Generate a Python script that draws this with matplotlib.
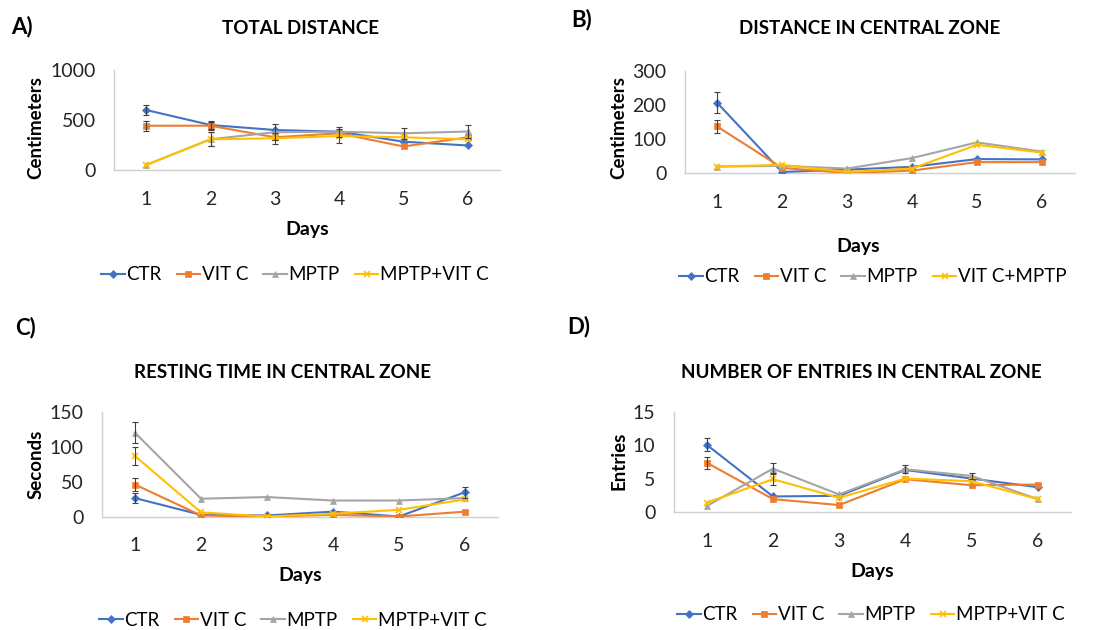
import matplotlib
matplotlib.use("Agg")
import matplotlib.pyplot as plt
import numpy as np

plt.rcParams['font.family'] = ['Lato', 'DejaVu Sans']

days = [1, 2, 3, 4, 5, 6]
colors = ['#4472C4', '#ED7D31', '#A5A5A5', '#FFC000']
markers = ['D', 's', '^', 'x']

# A) Total distance
a_ctr = [600, 450, 400, 383, 283, 245]
a_vitc = [443, 443, 327, 367, 235, 327]
a_mptp = [50, 307, 378, 383, 367, 385]
a_mvc = [50, 307, 317, 340, 327, 307]
a_err_ctr = [50, 40, 0, 50, 0, 0]
a_err_vitc = [50, 40, 0, 0, 0, 0]
a_err_mptp = [0, 70, 80, 0, 57, 67]
a_err_mvc = [0, 70, 55, 73, 0, 0]

# B) Distance in central zone
b_ctr = [207, 3, 10, 18, 41, 40]
b_vitc = [137, 15, 0, 7, 32, 32]
b_mptp = [19, 21, 13, 44, 90, 63]
b_mvc = [19, 24, 3, 13, 83, 60]
b_err_ctr = [31, 0, 0, 0, 0, 0]
b_err_vitc = [19, 0, 0, 0, 0, 0]
b_err_mptp = [0, 0, 0, 0, 0, 0]
b_err_mvc = [0, 0, 0, 0, 0, 0]

# C) Resting time in central zone
c_ctr = [26.5, 2.4, 1.5, 7, 0, 35]
c_vitc = [46, 1.5, 0, 2.4, 0, 7]
c_mptp = [120.5, 25.6, 28, 23, 23, 26.5]
c_mvc = [87, 6, 0, 4, 9.6, 24.6]
c_err_ctr = [7, 0, 0, 0, 0, 8]
c_err_vitc = [9, 0, 0, 0, 0, 0]
c_err_mptp = [15, 0, 0, 0, 0, 0]
c_err_mvc = [13, 0, 0, 0, 0, 0]

# D) Number of entries in central zone
d_ctr = [10.1, 2.3, 2.4, 6.3, 5.0, 3.7]
d_vitc = [7.4, 1.9, 1.0, 4.9, 4.0, 4.1]
d_mptp = [0.85, 6.5, 2.6, 6.4, 5.4, 1.9]
d_mvc = [1.35, 4.9, 2.1, 5.0, 4.6, 1.9]
d_err_ctr = [0.95, 0, 0, 0, 0, 0]
d_err_vitc = [0.9, 0, 0, 0, 0, 0]
d_err_mptp = [0, 0.8, 0, 0.6, 0.5, 0]
d_err_mvc = [0, 0.9, 0, 0, 0, 0]

labels_main = ['CTR', 'VIT C', 'MPTP', 'MPTP+VIT C']
labels_b = ['CTR', 'VIT C', 'MPTP', 'VIT C+MPTP']

W, H = 1095, 630
fig = plt.figure(figsize=(W / 100, H / 100), dpi=100)


def px_rect(x0, y_top, x1, y_bot):
    return [x0 / W, 1 - y_bot / H, (x1 - x0) / W, (y_bot - y_top) / H]


def fx(x):
    return x / W


def fy(y):
    return 1 - y / H


panels = [
    dict(rect=px_rect(114, 70, 500, 170), series=[a_ctr, a_vitc, a_mptp, a_mvc],
         errs=[a_err_ctr, a_err_vitc, a_err_mptp, a_err_mvc], ymax=1000, yticks=[0, 500, 1000],
         ylabel='Centimeters', ylab=(36, 128), title='TOTAL DISTANCE', tpos=(300, 29),
         letter='A)', lpos=(11, 27), days=(307, 230), leg=(295, 275), labels=labels_main),
    dict(rect=px_rect(684.5, 71, 1074.5, 173), series=[b_ctr, b_vitc, b_mptp, b_mvc],
         errs=[b_err_ctr, b_err_vitc, b_err_mptp, b_err_mvc], ymax=300, yticks=[0, 100, 200, 300],
         ylabel='Centimeters', ylab=(619, 128), title='DISTANCE IN CENTRAL ZONE', tpos=(870, 29),
         letter='B)', lpos=(571, 20), days=(858, 247), leg=(873, 277), labels=labels_b),
    dict(rect=px_rect(102, 412.3, 498, 516.5), series=[c_ctr, c_vitc, c_mptp, c_mvc],
         errs=[c_err_ctr, c_err_vitc, c_err_mptp, c_err_mvc], ymax=150, yticks=[0, 50, 100, 150],
         ylabel='Seconds', ylab=(36, 464), title='RESTING TIME IN CENTRAL ZONE', tpos=(282, 372),
         letter='C)', lpos=(15, 328), days=(300, 575), leg=(293, 620), labels=labels_main),
    dict(rect=px_rect(673.6, 412.3, 1070.8, 511.7), series=[d_ctr, d_vitc, d_mptp, d_mvc],
         errs=[d_err_ctr, d_err_vitc, d_err_mptp, d_err_mvc], ymax=15, yticks=[0, 5, 10, 15],
         ylabel='Entries', ylab=(619, 461), title='NUMBER OF ENTRIES IN CENTRAL ZONE', tpos=(861, 372),
         letter='D)', lpos=(567, 327), days=(872, 572), leg=(871, 615), labels=labels_main),
]

for p in panels:
    ax = fig.add_axes(p['rect'])
    handles = []
    for vals, err, c, m, lab in zip(p['series'], p['errs'], colors, markers, p['labels']):
        ms = 4 if m == 'D' else 5
        ln, = ax.plot(days, vals, color=c, lw=1.5, marker=m, ms=ms, mew=1.2 if m == 'x' else 0.5,
                      mec=c, mfc=c, label=lab, zorder=3)
        e = np.array(err, dtype=float)
        mask = e > 0
        if mask.any():
            ax.errorbar(np.array(days)[mask], np.array(vals)[mask], yerr=e[mask], fmt='none',
                        ecolor='#404040', elinewidth=0.8, capsize=2.5, capthick=0.8, zorder=4)
        handles.append(ln)
    ax.set_xlim(0.5, 6.5)
    ax.set_ylim(0, p['ymax'])
    ax.set_xticks(days)
    ax.set_yticks(p['yticks'])
    ax.tick_params(length=0, labelsize=14, colors='#262626')
    ax.tick_params(axis='x', pad=15)
    ax.tick_params(axis='y', pad=13)
    for s in ['top', 'right']:
        ax.spines[s].set_visible(False)
    for s in ['left', 'bottom']:
        ax.spines[s].set_color('#D0D0D0')
        ax.spines[s].set_linewidth(1.0)
    ax.patch.set_alpha(0)
    fig.text(fx(p['ylab'][0]), fy(p['ylab'][1]), p['ylabel'], rotation=90, ha='center', va='center',
             fontsize=13.5, fontweight='bold', color='#000000')
    fig.text(fx(p['tpos'][0]), fy(p['tpos'][1]), p['title'], ha='center', va='center',
             fontsize=13.5, fontweight='bold', color='#000000')
    fig.text(fx(p['lpos'][0]), fy(p['lpos'][1]), p['letter'], ha='left', va='center',
             fontsize=16, fontweight='bold', color='#000000')
    fig.text(fx(p['days'][0]), fy(p['days'][1]), 'Days', ha='center', va='center',
             fontsize=14, fontweight='bold', color='#000000')
    fig.legend(handles=handles, loc='center', bbox_to_anchor=(fx(p['leg'][0]), fy(p['leg'][1])),
               ncol=4, frameon=False, fontsize=13.5, handlelength=1.25, handletextpad=0.1,
               columnspacing=0.8, borderaxespad=0, borderpad=0)

fig.savefig('out.png', dpi=100)
